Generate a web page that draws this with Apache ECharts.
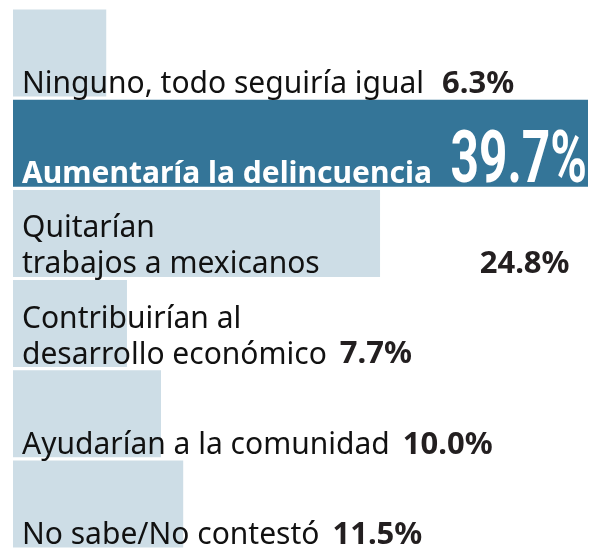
<!DOCTYPE html>
<html>
<head>
<meta charset="utf-8">
<script src="https://cdn.jsdelivr.net/npm/echarts@6/dist/echarts.min.js"></script>
<style>
  html, body { margin: 0; padding: 0; background: #fff; }
  #chart { width: 592px; height: 549px; }
</style>
</head>
<body>
<div id="chart"></div>
<script>
// categories, top to bottom
const categories = [
  "Ninguno, todo seguiría igual",
  "Aumentaría la delincuencia",
  "Quitarían\ntrabajos a mexicanos",
  "Contribuirían al\ndesarrollo económico",
  "Ayudarían a la comunidad",
  "No sabe/No contestó"
];
// percentages
const values = [6.3, 39.7, 24.8, 7.7, 10.0, 11.5];
const highlightIndex = 1;

// space between answer text and value (px)
const valueGaps = [18, 0, 160, 13, 13, 13];

const chart = echarts.init(document.getElementById("chart"));

function labelText(idx) {
  let lines = categories[idx].split("\n");
  let last = lines.pop();
  if (idx === highlightIndex) return "{h|" + last + "}";
  let out = lines.map(l => "{t|" + l + "}").join("\n");
  if (out) out += "\n";
  out += "{t|" + last + "}{g" + idx + "|}{v|" + values[idx].toFixed(1) + "%}";
  return out;
}

let rich = {
  t: { fontFamily: "Noto Sans", fontSize: 30, color: "#111", lineHeight: 36, verticalAlign: "bottom" },
  v: { fontFamily: "Noto Sans", fontWeight: "bold", fontSize: 31, color: "#231f20", lineHeight: 36, verticalAlign: "bottom" },
  h: { fontFamily: "Noto Sans", fontWeight: "bold", fontSize: 30, color: "#fff", lineHeight: 36, verticalAlign: "bottom" }
};
valueGaps.forEach((g, i) => { rich["g" + i] = { width: g, verticalAlign: "bottom" }; });

const option = {
  animation: false,
  grid: { left: 13, top: 8, width: 575, height: 546 },
  xAxis: { type: "value", min: 0, max: 38.85, show: false },
  yAxis: { type: "category", data: categories, inverse: true, show: false },
  series: [{
    type: "bar",
    barWidth: 87,
    clip: true,
    data: values.map((v, i) => ({
      value: v,
      itemStyle: { color: i === highlightIndex ? "#347598" : "#cddde6" }
    })),
    label: {
      show: true,
      position: "insideBottomLeft",
      distance: 0,
      offset: [9, 3],
      formatter: p => labelText(p.dataIndex),
      rich: rich
    }
  }]
};

chart.setOption(option);

// big condensed figure for the highlighted answer
let yc = chart.convertToPixel({ yAxisIndex: 0 }, categories[highlightIndex]);
chart.setOption({
  graphic: [{
    type: "text",
    x: 587,
    y: yc + 57,
    scaleX: 0.68,
    z: 100,
    style: {
      text: values[highlightIndex].toFixed(1) + "%",
      font: "bold 73px Roboto",
      fill: "#fff",
      align: "right",
      verticalAlign: "bottom"
    }
  }]
});
</script>
</body>
</html>
